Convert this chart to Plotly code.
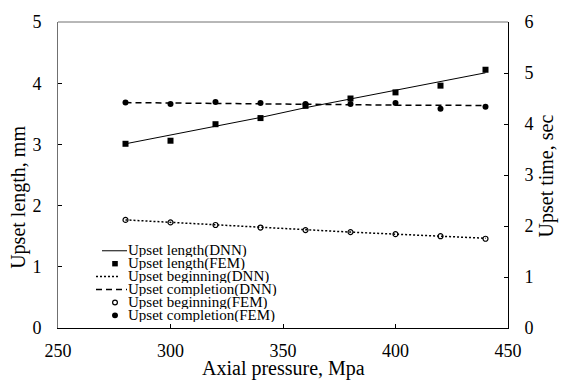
import plotly.graph_objects as go

# Axial pressure (MPa)
pressure = [280, 300, 320, 340, 360, 380, 400, 420, 440]

# Upset length, mm (left axis)
length_dnn = [3.01, 3.15, 3.30, 3.44, 3.60, 3.74, 3.88, 4.02, 4.17]
length_fem = [3.01, 3.06, 3.33, 3.43, 3.63, 3.75, 3.85, 3.96, 4.22]

# Upset time, sec (right axis)
begin_dnn = [2.12, 2.07, 2.02, 1.97, 1.93, 1.88, 1.84, 1.80, 1.76]
complete_dnn = [4.42, 4.41, 4.40, 4.39, 4.39, 4.38, 4.37, 4.37, 4.36]
begin_fem = [2.12, 2.07, 2.02, 1.97, 1.92, 1.88, 1.84, 1.80, 1.75]
complete_fem = [4.42, 4.39, 4.43, 4.41, 4.39, 4.39, 4.41, 4.30, 4.34]

x_ticks = [250, 300, 350, 400, 450]
left_ticks = [0, 1, 2, 3, 4, 5]
right_ticks = [0, 1, 2, 3, 4, 5, 6]

legend_labels = [
    "Upset length(DNN)",
    "Upset length(FEM)",
    "Upset beginning(DNN)",
    "Upset completion(DNN)",
    "Upset beginning(FEM)",
    "Upset completion(FEM)",
]

FONT = "Times New Roman, Liberation Serif, serif"
W, H = 565, 386
L, R, T, B = 58, 508, 13, 328  # plot area in pixels


def px(x):
    return (x - L) / (R - L)


def py(y):
    return (B - y) / (B - T)


fig = go.Figure()

fig.add_trace(go.Scatter(x=pressure, y=length_dnn, mode="lines",
                         line=dict(color="black", width=1), yaxis="y"))
fig.add_trace(go.Scatter(x=pressure, y=begin_dnn, mode="lines",
                         line=dict(color="black", width=1.5, dash="2px,2px"), yaxis="y2"))
fig.add_trace(go.Scatter(x=pressure, y=complete_dnn, mode="lines",
                         line=dict(color="black", width=1.5, dash="6px,4px"), yaxis="y2"))
fig.add_trace(go.Scatter(x=pressure, y=length_fem, mode="markers",
                         marker=dict(symbol="square", size=6, color="black"), yaxis="y"))
fig.add_trace(go.Scatter(x=pressure, y=begin_fem, mode="markers",
                         marker=dict(symbol="circle-open", size=5, color="black",
                                     line=dict(width=1.2)), yaxis="y2"))
fig.add_trace(go.Scatter(x=pressure, y=complete_fem, mode="markers",
                         marker=dict(symbol="circle", size=6, color="black"), yaxis="y2"))

tickfont = dict(family=FONT, size=18, color="black")

fig.update_layout(
    width=W, height=H,
    margin=dict(l=L, r=W - R, t=T, b=H - B),
    paper_bgcolor="white", plot_bgcolor="white",
    showlegend=False,
    font=dict(family=FONT, color="black", size=18),
    xaxis=dict(range=[250, 450], tickmode="array", tickvals=x_ticks,
               ticktext=[str(v) for v in x_ticks], ticks="inside", ticklen=4,
               tickcolor="black", showline=True, linecolor="black", linewidth=1,
               showgrid=False, zeroline=False, tickfont=tickfont,
               ticklabelstandoff=6),
    yaxis=dict(range=[0, 5], tickmode="array", tickvals=left_ticks,
               ticktext=[str(v) for v in left_ticks], ticks="inside", ticklen=4,
               tickcolor="black", showline=True, linecolor="#707070", linewidth=1,
               showgrid=False, zeroline=False, tickfont=tickfont,
               ticklabelstandoff=12),
    yaxis2=dict(range=[0, 6], tickmode="array", tickvals=right_ticks,
                ticktext=[str(v) for v in right_ticks], ticks="inside", ticklen=4,
                tickcolor="black", showline=True, linecolor="black", linewidth=1,
                showgrid=False, zeroline=False, tickfont=tickfont,
                overlaying="y", side="right", ticklabelstandoff=12),
)

shapes = [dict(type="line", xref="paper", yref="paper", x0=0, x1=1, y0=1, y1=1,
               line=dict(color="#707070", width=1))]
annotations = []

# Axis titles
title_font = dict(family=FONT, size=20, color="black")
annotations.append(dict(text="Axial pressure, Mpa", xref="paper", yref="paper",
                        x=px(283), y=py(370), showarrow=False, font=title_font,
                        xanchor="center", yanchor="middle"))
annotations.append(dict(text="Upset length, mm", xref="paper", yref="paper",
                        x=px(19), y=py(194), showarrow=False, font=title_font,
                        textangle=-90, xanchor="center", yanchor="middle"))
annotations.append(dict(text="Upset time, sec", xref="paper", yref="paper",
                        x=px(546), y=py(172), showarrow=False, font=title_font,
                        textangle=-90, xanchor="center", yanchor="middle"))

# Legend block
row_y = [248.5, 261.8, 275.1, 288.4, 301.7, 315.0]
legend_font = dict(family=FONT, size=15, color="black")
for label, yy in zip(legend_labels, row_y):
    annotations.append(dict(text=label, xref="paper", yref="paper",
                            x=px(127), y=py(yy), showarrow=False, font=legend_font,
                            xanchor="left", yanchor="middle", height=13, borderpad=0))

# line samples
shapes.append(dict(type="line", xref="paper", yref="paper",
                   x0=px(102), x1=px(127), y0=py(row_y[0]), y1=py(row_y[0]),
                   line=dict(color="black", width=1)))
shapes.append(dict(type="line", xref="paper", yref="paper",
                   x0=px(96), x1=px(118), y0=py(row_y[2]), y1=py(row_y[2]),
                   line=dict(color="black", width=1.5, dash="2px,2px")))
shapes.append(dict(type="line", xref="paper", yref="paper",
                   x0=px(96), x1=px(127), y0=py(row_y[3]), y1=py(row_y[3]),
                   line=dict(color="black", width=1.5, dash="6px,4px")))
# marker samples
s = 2.8
shapes.append(dict(type="rect", xref="paper", yref="paper",
                   x0=px(115 - s), x1=px(115 + s), y0=py(row_y[1] - s), y1=py(row_y[1] + s),
                   fillcolor="black", line=dict(width=0)))
c = 2.4
shapes.append(dict(type="circle", xref="paper", yref="paper",
                   x0=px(115 - c), x1=px(115 + c), y0=py(row_y[4] - c), y1=py(row_y[4] + c),
                   fillcolor="white", line=dict(color="black", width=1.2)))
c = 3
shapes.append(dict(type="circle", xref="paper", yref="paper",
                   x0=px(115 - c), x1=px(115 + c), y0=py(row_y[5] - c), y1=py(row_y[5] + c),
                   fillcolor="black", line=dict(width=0)))

fig.update_layout(shapes=shapes, annotations=annotations)

fig.write_html("out.html")
